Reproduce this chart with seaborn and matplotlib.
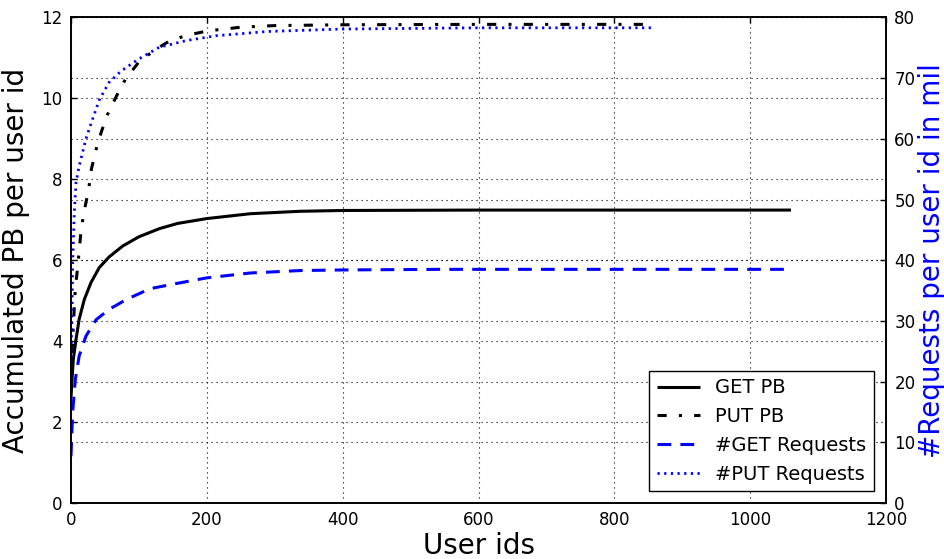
import matplotlib
matplotlib.use("Agg")
import matplotlib.pyplot as plt
import seaborn as sns

# Accumulated transfer volume (PB) per user id, left axis
get_pb_x = [0, 1.5, 3.4, 7.4, 12, 19.6, 29.5, 41.7, 56, 76, 100, 130, 157, 200, 264, 337, 400,
            600, 800, 1060]
get_pb_y = [2.6, 3.05, 3.55, 4.04, 4.54, 5.03, 5.45, 5.82, 6.08, 6.35, 6.58, 6.78, 6.91, 7.03,
            7.15, 7.21, 7.23, 7.24, 7.24, 7.24]

put_pb_x = [0, 1.5, 3.4, 6.3, 10, 15, 20, 26, 30, 37, 45, 54, 67, 80, 99, 121, 146, 173, 202,
            250, 300, 400, 600, 855]
put_pb_y = [2.8, 3.71, 4.37, 5.28, 5.86, 6.77, 7.26, 7.75, 8.25, 8.74, 9.19, 9.61, 10.06, 10.47,
            10.88, 11.17, 11.43, 11.57, 11.67, 11.76, 11.80, 11.82, 11.83, 11.83]

# Accumulated request counts (millions) per user id, right axis
get_req_x = [0, 2.4, 6.3, 12, 22, 37, 56, 81, 116, 152, 200, 264, 337, 400, 543, 800, 1060]
get_req_y = [7.7, 14.9, 20.3, 24.2, 27.5, 30.2, 31.9, 33.5, 35.3, 36.1, 37.1, 37.9, 38.3, 38.4,
             38.5, 38.5, 38.5]

put_req_x = [0, 1.5, 2.4, 4.9, 7.4, 12, 22, 30, 42, 56, 74, 99, 130, 170, 214, 290, 400, 600, 855]
put_req_y = [24, 31.4, 39.6, 47.9, 52.8, 55.5, 60.0, 62.7, 66.5, 69.3, 71.2, 73.1, 75.1, 76.2,
             77.0, 77.7, 78.1, 78.3, 78.3]

x_ticks = [0, 200, 400, 600, 800, 1000, 1200]
left_ticks = [0, 2, 4, 6, 8, 10, 12]
right_ticks = [0, 10, 20, 30, 40, 50, 60, 70, 80]

sns.set_theme(style="white")
plt.rcParams["font.family"] = ["DejaVu Sans"]
plt.rcParams.update({
    "text.color": "black",
    "axes.labelcolor": "black",
    "xtick.direction": "in",
    "ytick.direction": "in",
    "xtick.top": True,
    "xtick.major.size": 4,
    "ytick.major.size": 4,
    "xtick.major.width": 1,
    "ytick.major.width": 1,
    "xtick.labelsize": 12,
    "ytick.labelsize": 12,
    "xtick.major.pad": 6,
    "ytick.major.pad": 6,
    "xtick.color": "black",
    "ytick.color": "black",
    "axes.edgecolor": "black",
    "axes.linewidth": 1.2,
    "lines.solid_capstyle": "butt",
    "lines.dash_capstyle": "butt",
})

fig = plt.figure(figsize=(9.44, 5.59), dpi=100)
ax = fig.add_axes([0.0752, 0.1002, 0.8634, 0.8685])
ax2 = ax.twinx()

grid_kw = dict(color="black", linewidth=0.8, linestyle=(0, (1, 3.5)))

sns.lineplot(x=get_pb_x, y=get_pb_y, ax=ax, color="black", linewidth=2.2,
             linestyle="-", label="GET PB", legend=False)
sns.lineplot(x=put_pb_x, y=put_pb_y, ax=ax, color="black", linewidth=2.2,
             linestyle=(0, (3, 4, 1, 4)), label="PUT PB", legend=False)
sns.lineplot(x=get_req_x, y=get_req_y, ax=ax2, color="blue", linewidth=2.2,
             linestyle=(0, (4.5, 3)), label="#GET Requests", legend=False)
sns.lineplot(x=put_req_x, y=put_req_y, ax=ax2, color="blue", linewidth=2.0,
             linestyle=(0, (0.8, 1.6)), label="#PUT Requests", legend=False)

ax.set_xlim(0, 1200)
ax.set_ylim(0, 12)
ax2.set_ylim(0, 80)
ax.set_xticks(x_ticks)
ax.set_yticks(left_ticks)
ax2.set_yticks(right_ticks)
ax.grid(True, **grid_kw)
ax2.yaxis.grid(True, **grid_kw)
ax2.xaxis.grid(False)
ax.set_axisbelow(True)
ax2.set_axisbelow(True)

ax.set_xlabel("User ids", fontsize=20, labelpad=2)
ax.set_ylabel("Accumulated PB per user id", fontsize=20, labelpad=8)
ax2.set_ylabel("#Requests per user id in mil", fontsize=20, color="blue")
ax2.yaxis.set_label_coords(1.039, 0.5)
ax2.tick_params(axis="y", direction="in", length=4, width=1, labelsize=12, pad=6,
                colors="black")

for sp in ax2.spines.values():
    sp.set_linewidth(1.2)
    sp.set_edgecolor("black")

h1, l1 = ax.get_legend_handles_labels()
h2, l2 = ax2.get_legend_handles_labels()
leg = ax2.legend(h1 + h2, l1 + l2, loc="lower right", fontsize=14, frameon=True,
                 fancybox=False, framealpha=1, edgecolor="black", labelspacing=0.5,
                 handlelength=2.2, borderaxespad=0.6, borderpad=0.4)
leg.get_frame().set_linewidth(1.0)

fig.savefig("out.png", dpi=100)
